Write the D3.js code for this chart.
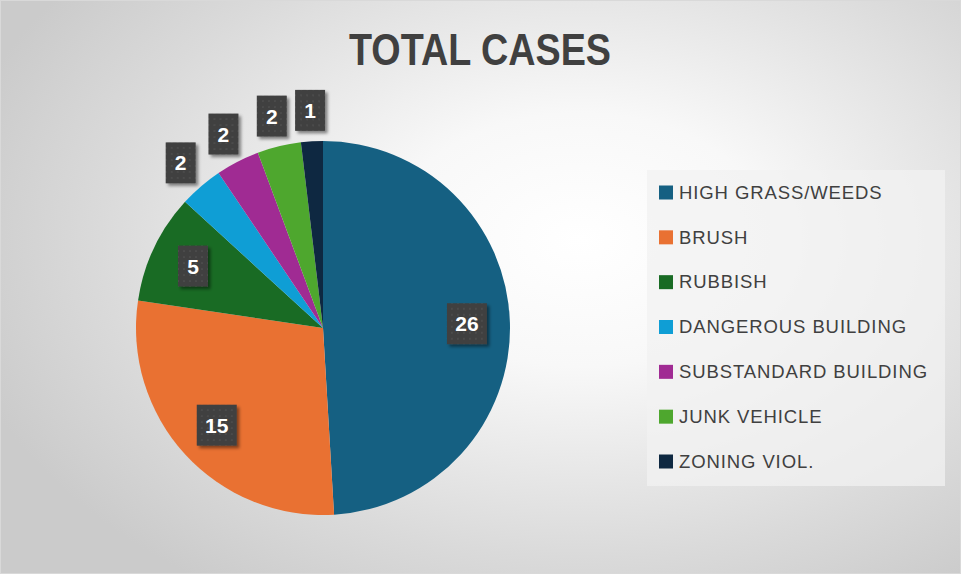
<!DOCTYPE html>
<html><head><meta charset="utf-8">
<script src="https://cdn.jsdelivr.net/npm/d3@7"></script>
<style>html,body{margin:0;padding:0;overflow:hidden;background:#fff}</style>
</head><body>
<svg id="chart" width="961" height="574"></svg>
<script>
const categories = ["HIGH GRASS/WEEDS","BRUSH","RUBBISH","DANGEROUS BUILDING","SUBSTANDARD BUILDING","JUNK VEHICLE","ZONING VIOL."];
const values = [26,15,5,2,2,2,1];
const colors = ["#156082","#E97132","#196B24","#0F9ED5","#A02B93","#4EA72E","#0E2841"];
const title = "TOTAL CASES";

const W = 961, H = 574;
const svg = d3.select("#chart");
const defs = svg.append("defs");

const bg = defs.append("radialGradient").attr("id","bg")
  .attr("gradientUnits","userSpaceOnUse")
  .attr("cx",580).attr("cy",240).attr("r",640)
  .attr("gradientTransform","translate(580,240) scale(1,0.66) translate(-580,-240)");
bg.append("stop").attr("offset","0%").attr("stop-color","#ffffff");
bg.append("stop").attr("offset","30%").attr("stop-color","#f8f8f8");
bg.append("stop").attr("offset","75%").attr("stop-color","#dadada");
bg.append("stop").attr("offset","100%").attr("stop-color","#cbcbcb");

const sh = defs.append("filter").attr("id","shadow").attr("x","-30%").attr("y","-30%").attr("width","170%").attr("height","170%");
sh.append("feDropShadow").attr("dx",2.5).attr("dy",2.5).attr("stdDeviation",1.8).attr("flood-color","#000").attr("flood-opacity",0.45);

const pat = defs.append("pattern").attr("id","dots").attr("width",6).attr("height",6).attr("patternUnits","userSpaceOnUse");
pat.append("rect").attr("width",6).attr("height",6).attr("fill","#3f3f3f");
pat.append("circle").attr("cx",3).attr("cy",3).attr("r",0.8).attr("fill","#5a5a5a");

svg.append("rect").attr("width",W).attr("height",H).attr("fill","url(#bg)");
svg.append("rect").attr("x",0.5).attr("y",0.5).attr("width",W-1).attr("height",H-1)
  .attr("fill","none").attr("stroke","#d9d9d9").attr("stroke-width",1);

svg.append("text").attr("x",480).attr("y",65).attr("text-anchor","middle")
  .attr("font-family","'Liberation Sans', Arial, sans-serif")
  .attr("font-weight","bold").attr("font-size",44).attr("fill","#404040")
  .attr("textLength",262).attr("lengthAdjust","spacingAndGlyphs").text(title);

const cx = 323, cy = 328, r = 187;
const data = categories.map((c,i)=>({name:c, value:values[i], color:colors[i]}));
const pie = d3.pie().sort(null).value(d=>d.value);
const arcs = pie(data);
const arc = d3.arc().innerRadius(0).outerRadius(r);

const g = svg.append("g").attr("transform",`translate(${cx},${cy})`);
g.selectAll("path").data(arcs).join("path")
  .attr("d",arc).attr("fill",d=>d.data.color);

// labels
const total = d3.sum(values);
const inArc = d3.arc().innerRadius(r*0.77).outerRadius(r*0.77);
const outArc = d3.arc().innerRadius(r+31).outerRadius(r+31);
const lbl = g.selectAll("g.lbl").data(arcs).join("g").attr("class","lbl")
  .attr("transform",d=>{
    const p = (d.data.value/total > 0.06 ? inArc : outArc).centroid(d);
    return `translate(${p[0]},${p[1]})`;
  });
lbl.append("rect")
  .attr("x",d=>-(String(d.data.value).length>1?20:15))
  .attr("width",d=>String(d.data.value).length>1?40:30)
  .attr("y",-20.5).attr("height",41)
  .attr("fill","url(#dots)").attr("filter","url(#shadow)");
lbl.append("text").attr("text-anchor","middle").attr("dy","0.36em")
  .attr("font-family","'Liberation Sans', Arial, sans-serif").attr("font-weight","bold")
  .attr("font-size",21).attr("fill","#ffffff").text(d=>d.data.value);

// legend
const lg = svg.append("g");
lg.append("rect").attr("x",647).attr("y",170).attr("width",298).attr("height",316)
  .attr("fill","#f2f2f2").attr("fill-opacity",0.75);
const rowY = d3.scalePoint().domain(categories).range([192,461]);
const items = lg.selectAll("g.it").data(data).join("g").attr("class","it")
  .attr("transform",d=>`translate(659,${rowY(d.name)})`);
items.append("rect").attr("x",0).attr("y",-6.5).attr("width",14).attr("height",14).attr("fill",d=>d.color);
items.append("text").attr("x",20).attr("dy","0.36em")
  .attr("font-family","'Liberation Sans', Arial, sans-serif").attr("font-size",18.5)
  .attr("fill","#404040").attr("letter-spacing",0.9).text(d=>d.name);
</script>
</body></html>
